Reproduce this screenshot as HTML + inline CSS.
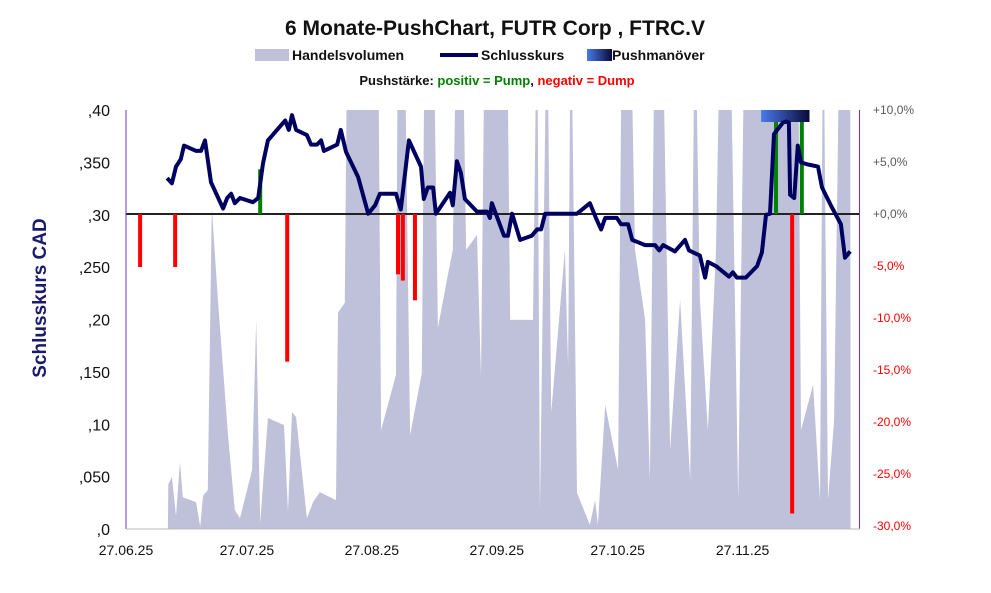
<!DOCTYPE html>
<html><head><meta charset="utf-8"><style>
body{margin:0;background:#fff;font-family:"Liberation Sans",sans-serif}
svg{display:block}
</style></head><body>
<svg id="c" width="991" height="593" viewBox="0 0 991 593">
<defs><linearGradient id="pg" x1="0" x2="1"><stop offset="0" stop-color="#4a7ae8"/><stop offset="1" stop-color="#0a0a3a"/></linearGradient>
<clipPath id="pc"><rect x="126" y="110" width="734" height="419"/></clipPath></defs>
<text x="495" y="35" text-anchor="middle" font-size="21" font-weight="bold" fill="#111">6 Monate-PushChart, FUTR Corp , FTRC.V</text>
<g font-size="14" font-weight="bold" fill="#111">
<rect x="255" y="49" width="34" height="12" fill="#bfc0da"/>
<text x="292" y="60">Handelsvolumen</text>
<line x1="440" y1="55" x2="478" y2="55" stroke="#000060" stroke-width="4"/>
<text x="481" y="60">Schlusskurs</text>
<rect x="587" y="49" width="25" height="12" fill="url(#pg)"/>
<text x="612" y="60">Pushmanöver</text>
<text x="497" y="85" text-anchor="middle" font-size="13">Pushstärke:  <tspan fill="#008000">positiv = Pump</tspan>,  <tspan fill="#ff0000">negativ = Dump</tspan></text>
</g>
<text transform="translate(46,298) rotate(-90)" text-anchor="middle" font-size="19" font-weight="bold" fill="#1a1a6e">Schlusskurs CAD</text>
<g id="vol" clip-path="url(#pc)"></g>
<g id="grid"></g>
<g id="bars"></g>
<g id="line"></g>
<g id="axes"></g>
</svg>
<script>
const priceDays=[10.2,11.4,12.4,13.6,14.4,17.4,18.6,19.6,21.1,24.1,25.1,26.1,27,28.3,31.5,32.8,34,35.2,39.5,40.4,41.2,42.2,44.9,45.9,47.4,48.4,49.1,52.4,53.3,54.6,57.6,60.1,61.8,63,67,68.2,70.2,73.2,73.9,74.9,76.2,76.9,80.4,81.1,82.1,83.1,84.1,87.1,89.6,90.3,90.8,93.8,94.8,95.8,97.8,100.7,102,103,104,111.9,115.1,116.6,117.9,118.9,121.8,122.8,124.6,125.6,128.8,131.3,132.3,133.3,136.2,138.7,139.7,142.4,143.7,144.4,146.4,149.6,150.6,151.6,153.8,156.6,157.8,158.8,159.8,160.8,163,163.8,164.5,164.8,165.8,166.7,167.5,169.2,171.7,172.7,174.9,177.4,178.4,179.7];
const prices=[.335,.330,.346,.353,.366,.361,.361,.371,.331,.306,.316,.320,.311,.316,.312,.316,.349,.371,.390,.381,.395,.381,.376,.367,.367,.371,.361,.367,.381,.360,.336,.301,.309,.320,.320,.305,.371,.346,.315,.326,.326,.301,.321,.309,.351,.340,.315,.303,.303,.297,.311,.280,.280,.301,.276,.280,.286,.286,.301,.301,.311,.297,.286,.297,.297,.291,.291,.276,.271,.271,.266,.271,.265,.276,.266,.261,.240,.255,.251,.241,.245,.240,.240,.251,.264,.300,.301,.377,.388,.389,.388,.319,.316,.366,.350,.348,.346,.326,.309,.291,.259,.265];
const volDays=[10.4,10.5,11.4,12.4,13.4,14.1,17.4,18.4,19.1,20.3,21.3,22.8,25.3,27,28.3,31.3,32.3,33.3,35.2,39.2,40.2,41.2,42.2,44.9,46.4,48.1,52.1,52.6,53.6,54.3,55,62.5,63.3,67,67.5,69,70.5,73.4,74.2,76.2,77.4,80.1,81.1,82.1,83.4,84.4,87.1,88.1,89.1,94.5,95.3,98,101,102,102.7,104.5,105.5,108.9,109.7,110.4,111.9,115.1,116.4,117.1,118.9,122.1,123.1,125.1,126.3,128.8,130,131.3,133,135,137.5,140,141.2,142.4,144.4,146.4,147.6,149.8,151.9,153.6,157.3,166.7,167.5,170.5,172.2,173,174.2,175.7,177.2,179.7,179.8];
const volumes=[0,10.7,12.4,3.1,16,7.6,6.4,0.5,7.9,9.3,76.8,54.7,22.4,4.5,2.6,14.1,49.9,1.4,26.5,24.8,4.1,27.9,26.7,2.6,6.4,8.8,6.9,51.6,53,54,130,130,23.6,36.8,130,130,22.4,37.2,130,130,48,61.8,66.6,130,130,66.6,70.2,36.3,130,130,49.9,49.9,49.9,130,4.1,130,27.7,66.6,38.7,130,8.6,1,6.9,1,29.6,14.1,130,130,66.6,50,11.7,130,130,18.9,54.7,11.7,130,54.7,23.6,66.6,130,130,6.9,130,130,130,23.6,34.4,6.9,130,7,26,130,130,0];
const pushDays=[3.5,12.2,33.3,40,67.5,68.7,71.7,161.3,165.3,167.7];
const pushValues=[-5.1,-5.1,4.3,-14.2,-5.8,-6.4,-8.3,8.9,-28.8,8.9];
const leftTicks=[",0",",050",",10",",150",",20",",250",",30",",350",",40"];
const rightTicks=["-30,0%","-25,0%","-20,0%","-15,0%","-10,0%","-5,0%","+0,0%","+5,0%","+10,0%"];
const xLabels=["27.06.25","27.07.25","27.08.25","27.09.25","27.10.25","27.11.25"];
const xLabelDays=[0,30,61,92,122,153];
const pushStart=157.6, pushEnd=169.6;

const NS="http://www.w3.org/2000/svg";
const X0=126,Y0=529,YT=110;
const x=d=>X0+d*4.03;
const yP=p=>Y0-p/0.40*(Y0-YT);
const yV=v=>Y0-v/100*(Y0-YT);
const yPct=p=>214-p/10*(214-YT);
function mk(tag,attrs,parent){const e=document.createElementNS(NS,tag);for(const k in attrs)e.setAttribute(k,attrs[k]);parent.appendChild(e);return e;}
const $=id=>document.getElementById(id);

let pts=volDays.map((d,i)=>x(d).toFixed(1)+","+yV(volumes[i]).toFixed(1));
pts.push(x(volDays[volDays.length-1]).toFixed(1)+","+Y0);
pts.unshift(x(volDays[0]).toFixed(1)+","+Y0);
const va=mk("polygon",{points:pts.join(" "),fill:"#bfc0da"},$("vol"));



const zl=mk("line",{x1:X0,x2:860,y1:yPct(0),y2:yPct(0),stroke:"#222","stroke-width":2},$("grid"));



pushDays.forEach((d,i)=>{const v=pushValues[i];const y1=yPct(0),y2=yPct(v);
const b=mk("rect",{x:x(d)-2,y:Math.min(y1,y2),width:4,height:Math.abs(y2-y1),fill:v>=0?"#008000":"#ff0000"},$("bars"));

});

const pm=mk("rect",{x:x(pushStart),y:YT,width:x(pushEnd)-x(pushStart),height:12,fill:"url(#pg)"},$("bars"));



const pl=mk("polyline",{points:priceDays.map((d,i)=>x(d).toFixed(1)+","+yP(prices[i]).toFixed(1)).join(" "),fill:"none",stroke:"#000060","stroke-width":4,"stroke-linejoin":"round"},$("line"));



const ax=$("axes");
const la=mk("line",{x1:X0,x2:X0,y1:YT,y2:Y0,stroke:"#7030c0","stroke-width":1},ax);


const ra=mk("line",{x1:859.5,x2:859.5,y1:YT,y2:Y0,stroke:"#7030c0","stroke-width":1},ax);


const ba=mk("line",{x1:X0,x2:860,y1:Y0,y2:Y0,stroke:"#bbb","stroke-width":1},ax);


leftTicks.forEach((t,i)=>{const e=mk("text",{x:110,y:yP(i*0.05)+6,"text-anchor":"end","font-size":16,fill:"#111"},ax);e.textContent=t;

});
rightTicks.forEach((t,i)=>{const v=-30+i*5;const e=mk("text",{x:873,y:yPct(v)+4,"font-size":12,fill:v<0?"#ff0000":"#595959"},ax);e.textContent=t;

});
xLabels.forEach((t,i)=>{const e=mk("text",{x:x(xLabelDays[i]),y:555,"text-anchor":"middle","font-size":14,fill:"#111"},ax);e.textContent=t;

});
</script>
</body></html>
